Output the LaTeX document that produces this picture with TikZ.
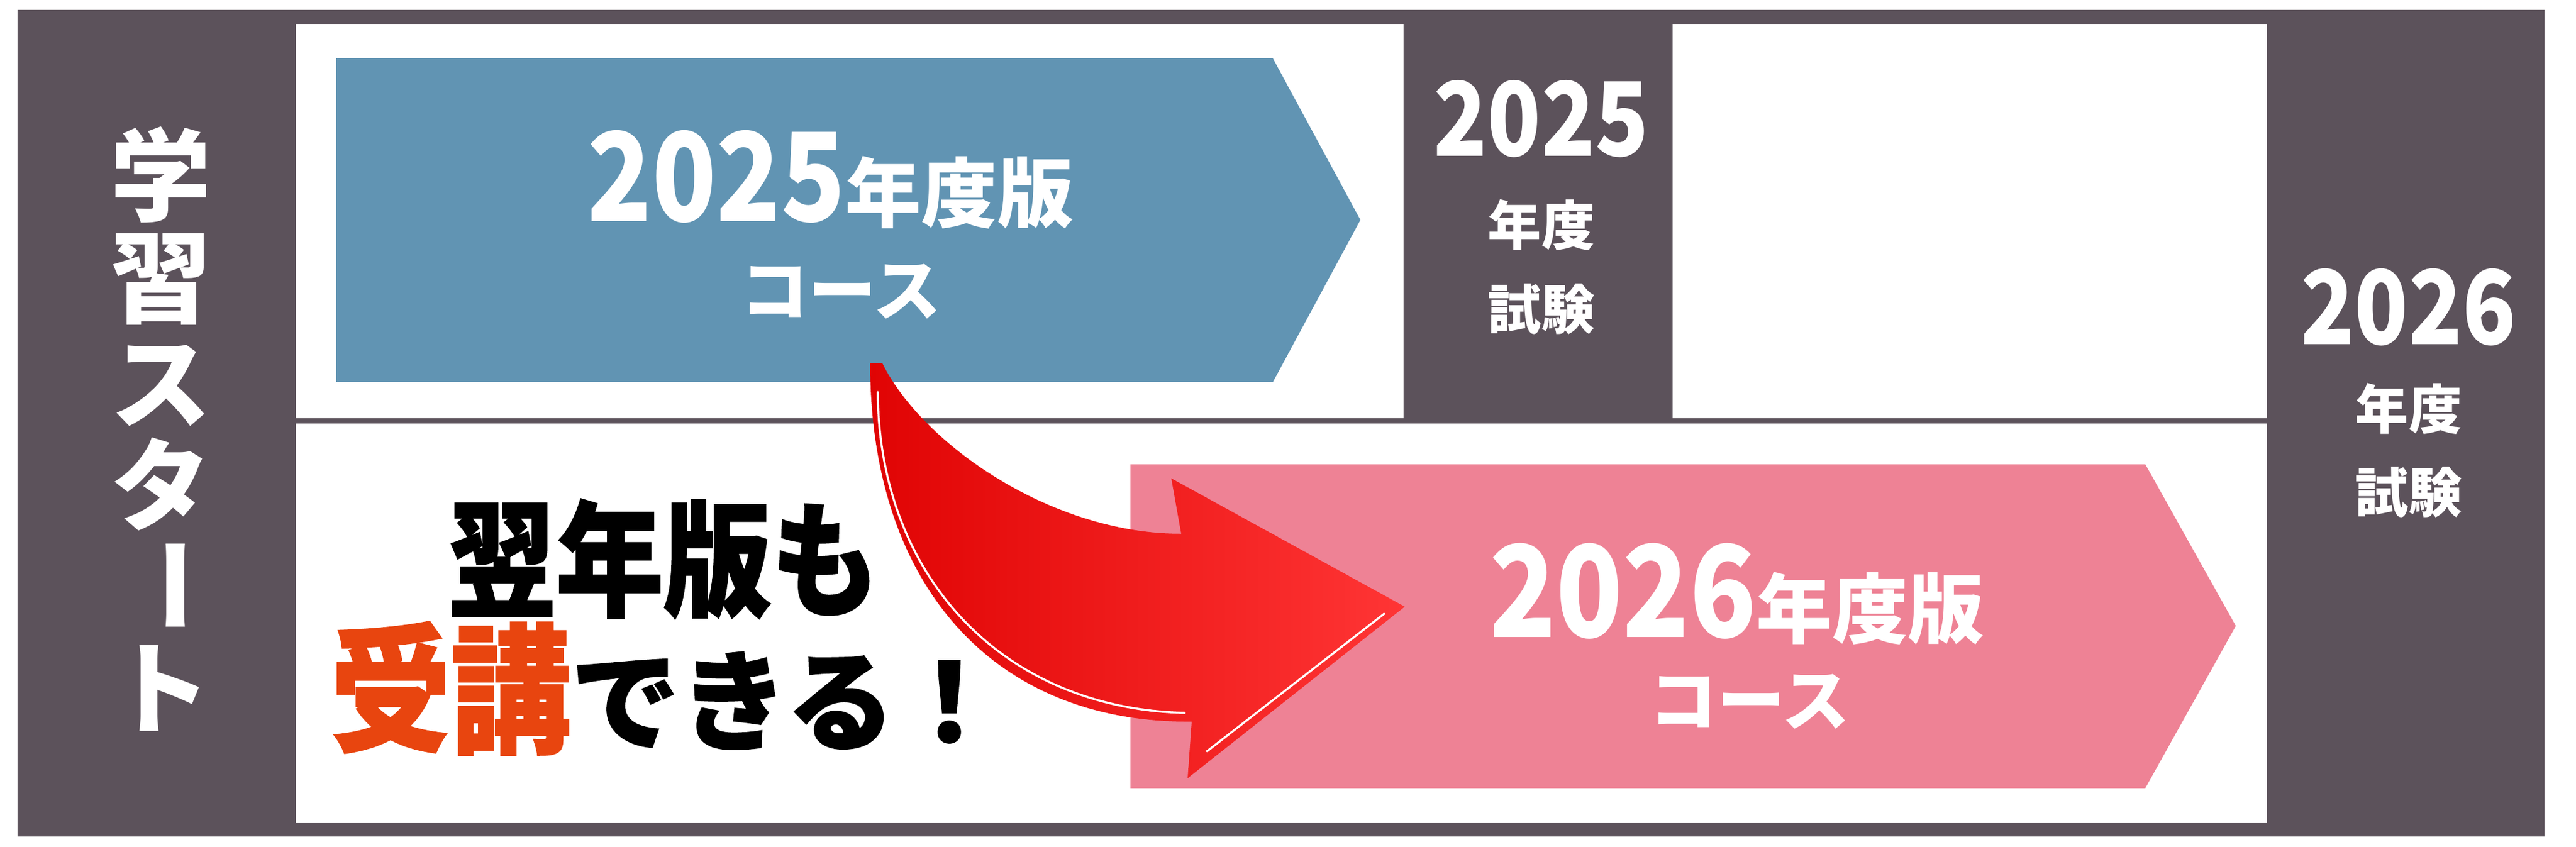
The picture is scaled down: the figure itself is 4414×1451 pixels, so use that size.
\documentclass[tikz,border=0pt]{standalone}
\usepackage{fontspec}
\usetikzlibrary{shadings}
\newfontfamily\cjk{Noto Sans CJK JP}
\newfontfamily\cjknarrow{Noto Sans CJK JP}[FakeStretch=0.86]
\newfontfamily\cjkheavy{Noto Sans CJK JP}[FakeBold=1.2,FakeStretch=0.86]
\newfontfamily\cjkheavywide{Noto Sans CJK JP}[FakeBold=1.2]
\definecolor{frame}{HTML}{5C525B}
\definecolor{course25}{HTML}{6194B3}
\definecolor{course26}{HTML}{EE8295}
\definecolor{accent}{HTML}{E8450F}
\definecolor{redL}{HTML}{E00404}
\definecolor{redR}{HTML}{FF3535}
\tikzset{
  wtext/.style={text=white, inner sep=0pt, font=\cjk\bfseries},
  btext/.style={text=black, inner sep=0pt, font=\cjkheavy\bfseries},
}
\newcommand{\fs}[1]{\fontsize{#1}{#1}\selectfont}
\newcommand{\dg}[2]{{\cjknarrow\bfseries\fs{#1}#2}}
\begin{document}
\begin{tikzpicture}[x=0.01cm,y=-0.01cm]
\useasboundingbox (0,0) rectangle (4414,1451);
\fill[white] (0,0) rectangle (4414,1451);
% frame
\fill[frame] (30,17) rectangle (4360,1434);
\fill[white] (507,41) rectangle (2405,717);
\fill[white] (2866,41) rectangle (3884,717);
\fill[white] (507,726) rectangle (3884,1411);
% course arrows
\fill[course25] (576,100) -- (2181,100) -- (2331,377) -- (2181,655) -- (576,655) -- cycle;
\fill[course26] (1937,796) -- (3676,796) -- (3831,1073) -- (3676,1351) -- (1937,1351) -- cycle;
% texts on blue
\node[wtext, anchor=base] (t25) at (1423,379) {\dg{60}{2025}{\fs{37}年度版}};
\node[wtext] (c25) at (1441,500) {\fs{33}コース};
% texts on pink
\node[wtext, anchor=base] (t26) at (2976,1092) {\dg{62}{2026}{\fs{37}年度版}};
\node[wtext] (c26) at (2998,1203) {\fs{33}コース};
% exam 2025
\node[wtext] (e25a) at (2641,204) {\dg{50}{2025}};
\node[wtext] (e25b) at (2641,386) {\fs{26}年度};
\node[wtext] (e25c) at (2641,530) {\fs{26}試験};
% exam 2026
\node[wtext] (e26a) at (4127,527) {\dg{50}{2026}};
\node[wtext] (e26b) at (4127,701) {\fs{26}年度};
\node[wtext] (e26c) at (4127,844) {\fs{26}試験};
% vertical start label
\node[wtext] (v1) at (276,300) {\fs{49}学};
\node[wtext] (v2) at (276,479) {\fs{49}習};
\node[wtext] (v3) at (276,661) {\fs{49}ス};
\node[wtext] (v4) at (276,830) {\fs{49}タ};
\node[wtext, rotate=-90] (v5) at (276,1004) {\fs{49}ー};
\node[wtext] (v6) at (276,1180) {\fs{49}ト};
% slogan
\node[btext] (s1) at (1137,958) {\fs{61}翌年版も};
\node[btext, anchor=west] (s2) at (566,1180) {{\color{accent}\fs{68}受講}{\cjkheavywide\bfseries\fs{53}できる！}};
% red curved arrow
\shade[left color=redL, right color=redR]
  (1491,623) -- (1512,623)
  .. controls (1580,760) and (1800,915) .. (2024,915)
  -- (2007,820) -- (2407,1040) -- (2035,1334) -- (2042,1237)
  .. controls (1700,1240) and (1491,1000) .. (1491,623) -- cycle;
\draw[white, line width=1pt, line cap=round]
  (1504,672) .. controls (1506,990) and (1720,1215) .. (2030,1222);
\draw[white, line width=1pt, line cap=round] (2372,1052) -- (2068,1288);
\end{tikzpicture}
\end{document}
